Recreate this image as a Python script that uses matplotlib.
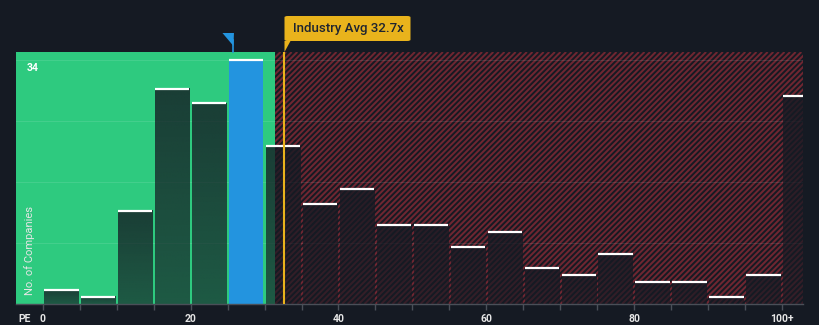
import matplotlib
matplotlib.use("Agg")
import matplotlib.pyplot as plt
from matplotlib.patches import Rectangle, Polygon, FancyBboxPatch
from matplotlib.collections import LineCollection
from matplotlib.transforms import IdentityTransform
import numpy as np

# ---- data ----
bin_starts = [0, 5, 10, 15, 20, 25, 30, 35, 40, 45, 50, 55, 60, 65, 70, 75, 80, 85, 90, 95, 100]
counts = [2, 1, 13, 30, 28, 34, 22, 14, 16, 11, 11, 8, 10, 5, 4, 7, 3, 3, 1, 4, 29]
tick_positions = [0, 20, 40, 60, 80, 100]
tick_labels = ["0", "20", "40", "60", "80", "100+"]
company_pe = 25.8
fair_limit = 31.4
industry_avg = 32.7
y_top_label = 34

BG = "#151a23"
GREEN = "#2eca7f"
BLUE = "#2394df"
YELLOW = "#e9b31c"
HATCH = "#6f2631"

plt.rcParams["font.family"] = ["Roboto", "DejaVu Sans"]

W, H = 820, 325
fig = plt.figure(figsize=(8.2, 3.25), dpi=100, facecolor=BG)
L, R, B, T = 16, 803, 304, 52  # pixel box (from top)
ax = fig.add_axes([L / W, (H - B) / H, (R - L) / W, (B - T) / H])
ax.set_facecolor(BG)
xmin, xmax = -3.6, 102.8
ymax = 35.15
ax.set_xlim(xmin, xmax)
ax.set_ylim(0, ymax)

# green region
ax.add_patch(Rectangle((xmin, 0), fair_limit - xmin, ymax, facecolor=GREEN, edgecolor="none", zorder=0))

# hatched region drawn as diagonal lines in pixel space
hx0 = L + (fair_limit - xmin) / (xmax - xmin) * (R - L)
clip_rect = Rectangle((fair_limit, 0), xmax - fair_limit, ymax, transform=ax.transData,
                      facecolor="none", edgecolor="none")
ax.add_patch(clip_rect)
period = 5.6
ybot, ytop = H - B, H - T  # display pixels from bottom
hgt = ytop - ybot
segs = []
k = -int(hgt / period) - 2
while True:
    xs = hx0 + k * period
    if xs > R + 2:
        break
    segs.append([(xs, ybot), (xs + hgt, ytop)])
    k += 1
lc = LineCollection(segs, colors=HATCH, linewidths=1.45, transform=IdentityTransform(), zorder=0.5)
ax.add_collection(lc, autolim=False)
lc.set_clip_path(clip_rect)

# gridlines
for g in [8.5, 17, 25.5, 34]:
    ax.axhline(g, color="white", alpha=0.1, linewidth=0.8, zorder=1)

# bars
w = 5
gap = 0.15
grad = np.zeros((64, 1, 4))
grad[:, 0, 0] = 21 / 255
grad[:, 0, 1] = 26 / 255
grad[:, 0, 2] = 35 / 255
grad[:, 0, 3] = np.linspace(0.80, 0.64, 64)  # top -> bottom
for x0, c in zip(bin_starts, counts):
    xa, xb = x0 + gap, x0 + w - gap
    if x0 <= company_pe < x0 + w:
        ax.bar(xa, c, width=xb - xa, align="edge", color=BLUE, edgecolor="none", zorder=2)
    else:
        ax.imshow(grad, extent=[xa, xb, 0, c], aspect="auto", origin="upper",
                  interpolation="bilinear", zorder=2)
    ax.plot([xa, xb], [c, c], color="white", linewidth=1.6, solid_capstyle="butt", zorder=3)
ax.set_xlim(xmin, xmax)
ax.set_ylim(0, ymax)

# industry average line
ax.axvline(industry_avg, color=YELLOW, linewidth=1.5, zorder=4)

# axes styling
for s in ["top", "right", "left"]:
    ax.spines[s].set_visible(False)
ax.spines["bottom"].set_color("#4a4f58")
ax.spines["bottom"].set_linewidth(1)
ax.set_yticks([])
ax.set_xticks(np.arange(0, 101, 5), minor=True)
ax.set_xticks(tick_positions)
ax.set_xticklabels(tick_labels)
ax.tick_params(axis="x", which="both", colors="#4a4f58", length=4, width=1)
ax.tick_params(axis="x", which="major", labelcolor="#e6e6e6", labelsize=7.5, pad=3.5)
for lab in ax.get_xticklabels():
    lab.set_fontweight("bold")

# texts
fig.text(18 / W, 1 - 319.5 / H, "PE", color="#e6e6e6", fontsize=7.5, fontweight="bold",
         va="center", ha="left")
ax.text(-2.2, 32.9, str(y_top_label), color="white", fontsize=7.5, fontweight="bold",
        va="center", ha="left", zorder=5)
ax.text(-1.8, 1.3, "No. of Companies", color="#e6e6e6", fontsize=8, rotation=90,
        va="bottom", ha="center", zorder=5)

# company marker (triangle above plot)
fig_x = lambda v: (L + (v - xmin) / (xmax - xmin) * (R - L)) / W
fx = fig_x(company_pe)
tri = Polygon([[fx - 11 / W, 1 - 33 / H], [fx + 0.5 / W, 1 - 33 / H], [fx, 1 - 46 / H]],
              closed=True, facecolor=BLUE, edgecolor="none", transform=fig.transFigure)
fig.patches.append(tri)
fig.lines.append(plt.Line2D([fx, fx], [1 - 40 / H, 1 - 52 / H], color=BLUE, linewidth=1.2,
                            transform=fig.transFigure))

# industry avg label box
ix = fig_x(industry_avg)
box = FancyBboxPatch((ix, 1 - 41 / H), 126 / W, 25 / H,
                     boxstyle="round,pad=0,rounding_size=0.004", facecolor=YELLOW, edgecolor="none",
                     transform=fig.transFigure)
fig.patches.append(box)
ptr = Polygon([[ix, 1 - 41 / H], [ix + 6 / W, 1 - 41 / H], [ix, 1 - 52 / H]], closed=True,
              facecolor=YELLOW, edgecolor="none", transform=fig.transFigure)
fig.patches.append(ptr)
fig.text(ix + 9 / W, 1 - 28.5 / H, "Industry Avg 32.7x", color="#1e2430", fontsize=9.5,
         fontweight="medium", va="center", ha="left")

fig.savefig("out.png", dpi=100, facecolor=BG)
